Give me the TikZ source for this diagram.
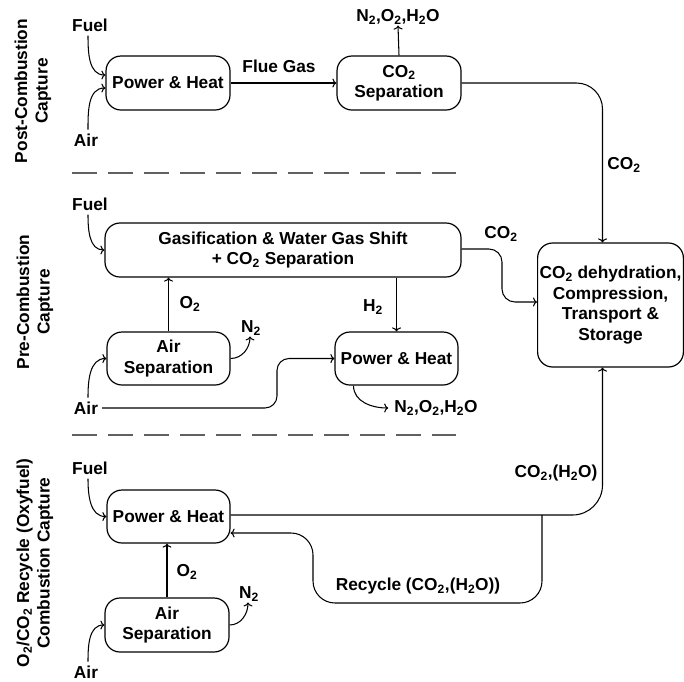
\documentclass[tikz,border=0pt]{standalone}
\usepackage{fontspec}
\setmainfont{Liberation Sans}
\usetikzlibrary{arrows.meta}
\tikzset{
  box/.style={draw, line width=1.2pt, rounded corners=15pt, align=center, inner sep=2pt},
  lbl/.style={inner sep=1pt, align=center},
  conn/.style={line width=1.05pt, -{To[length=4pt,width=9pt]}},
  sepline/.style={line width=1.8pt, gray!75!black, dash pattern=on 25pt off 11pt},
}
\begin{document}
\begin{tikzpicture}[x=1pt,y=-1pt, font=\fontsize{17.3}{20.5}\selectfont\bfseries]
\useasboundingbox (0,0) rectangle (684,681);
% section labels
\node[lbl, rotate=90] (t1) at (33,91) {Post-Combustion\\Capture};
\node[lbl, rotate=90] (t2) at (35,302) {Pre-Combustion\\Capture};
\node[lbl, rotate=90] (t3) at (35,563) {O\textsubscript{2}/CO\textsubscript{2} Recycle (Oxyfuel)\\Combustion Capture};
% separators
\draw[sepline] (72,173) -- (456,173);
\draw[sepline] (72,435) -- (456,435);
% storage
\node[box, minimum width=143pt, minimum height=124pt] (store) at (610.5,305) {CO\textsubscript{2} dehydration,\\Compression,\\Transport \&\\Storage};
% ---------- row 1
\node[box, minimum width=124pt, minimum height=54pt] (ph1) at (168,83) {Power \& Heat};
\node[box, minimum width=124pt, minimum height=54pt] (sep1) at (399,83) {CO\textsubscript{2}\\Separation};
\node[lbl] (fuel1) at (90,25) {Fuel};
\node[lbl] (air1) at (86,140) {Air};
\node[lbl] (out1) at (398,17) {N\textsubscript{2},O\textsubscript{2},H\textsubscript{2}O};
\node[lbl] (flue) at (279,66) {Flue Gas};
\node[lbl] (co2a) at (624,165) {CO\textsubscript{2}};
\draw[conn] ([xshift=-2pt,yshift=-3pt]fuel1.south) to[out=-90,in=180] ([yshift=8pt]ph1.west);
\draw[conn] ([xshift=2pt,yshift=3pt]air1.north) to[out=90,in=180] ([yshift=-5pt]ph1.west);
\draw[conn] (ph1.east) -- (sep1.west);
\draw[conn] (sep1.north) -- (out1.south);
\draw[conn, rounded corners=26pt] (sep1.east) -| ([xshift=-8pt]store.north);
% ---------- row 2
\node[box, minimum width=356pt, minimum height=54pt] (gas) at (283,250) {Gasification \& Water Gas Shift\\+ CO\textsubscript{2} Separation};
\node[box, minimum width=123pt, minimum height=53pt] (asep2) at (168.5,358.5) {Air\\Separation};
\node[box, minimum width=123pt, minimum height=53pt] (ph2) at (396.5,358.5) {Power \& Heat};
\node[lbl] (fuel2) at (90,204) {Fuel};
\node[lbl] (air2) at (86,408) {Air};
\node[lbl] (o2b) at (190,304) {O\textsubscript{2}};
\node[lbl] (n2b) at (251,328) {N\textsubscript{2}};
\node[lbl] (h2b) at (373,307) {H\textsubscript{2}};
\node[lbl] (co2b) at (501,234) {CO\textsubscript{2}};
\node[lbl] (out2) at (436,408) {N\textsubscript{2},O\textsubscript{2},H\textsubscript{2}O};
\coordinate (bendA) at (277,384);
\coordinate (bendC) at (502,276);
\draw[conn] ([xshift=-2pt,yshift=-3pt]fuel2.south) to[out=-90,in=180] (gas.west);
\draw[conn] (asep2.north) -- (asep2.north |- gas.south);
\draw[conn] (asep2.east) to[out=0,in=-90] ([xshift=-1pt]n2b.south);
\draw[conn] ([xshift=2pt,yshift=3pt]air2.north) to[out=90,in=180] (asep2.west);
\draw[conn, rounded corners=12pt] ([xshift=3pt]air2.east) -| (bendA) |- (ph2.west);
\draw[conn] (ph2.north |- gas.south) -- (ph2.north);
\draw[conn] ([xshift=-43pt]ph2.south) to[out=-90,in=180] ([xshift=-5pt]out2.west);
\draw[conn, rounded corners=13pt] ([yshift=1pt]gas.east) -| (bendC) |- ([yshift=3pt]store.west);
% ---------- row 3
\node[box, minimum width=123pt, minimum height=53pt] (ph3) at (168.5,516.5) {Power \& Heat};
\node[box, minimum width=124pt, minimum height=54pt] (asep3) at (167,625) {Air\\Separation};
\node[lbl] (fuel3) at (90,468) {Fuel};
\node[lbl] (air3) at (86,672) {Air};
\node[lbl] (o2c) at (187,572) {O\textsubscript{2}};
\node[lbl] (n2c) at (249,594) {N\textsubscript{2}};
\node[lbl] (co2c) at (556,473) {CO\textsubscript{2},(H\textsubscript{2}O)};
\node[lbl] (rec) at (418,586) {Recycle (CO\textsubscript{2},(H\textsubscript{2}O))};
\draw[conn] ([xshift=-2pt,yshift=-3pt]fuel3.south) to[out=-90,in=180] (ph3.west);
\draw[conn] (asep3.north) -- (asep3.north |- ph3.south);
\draw[conn] (asep3.east) to[out=0,in=-90] ([xshift=-1pt]n2c.south);
\draw[conn] ([xshift=2pt,yshift=3pt]air3.north) to[out=90,in=180] (asep3.west);
\draw[conn, rounded corners=30pt] ([yshift=1.5pt]ph3.east) -| ([xshift=-8pt]store.south);
\coordinate (rj) at (542,515);
\coordinate (rb) at (313,603);
\draw[conn, rounded corners=22pt] (rj) |- (rb) |- ([yshift=-16.5pt]ph3.east);
\end{tikzpicture}
\end{document}
